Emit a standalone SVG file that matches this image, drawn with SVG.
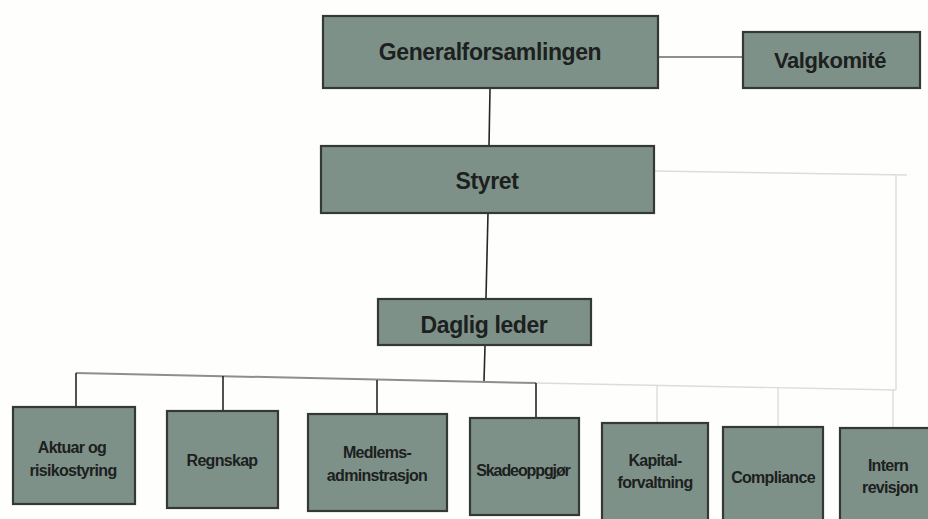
<svg xmlns="http://www.w3.org/2000/svg" width="928" height="519" viewBox="0 0 928 519">
<style>
.box{fill:#7e9188;stroke:#343836;stroke-width:2.2}
.big{font-family:"Liberation Sans",Arial,sans-serif;font-weight:bold;font-size:23px;fill:#1c201e;text-anchor:middle;letter-spacing:-0.4px}
.sm{font-family:"Liberation Sans",Arial,sans-serif;font-weight:bold;font-size:16px;fill:#1c201e;text-anchor:middle;letter-spacing:-0.7px}
.dark{stroke:#262626;stroke-width:1.6;fill:none}
.mid{stroke:#8c8f8d;stroke-width:2;fill:none}
.light{stroke:#dcdcd8;stroke-width:1.4;fill:none}
</style>
<rect width="928" height="519" fill="#fefefc"/>
<g id="connectors">
<line class="mid" x1="658" y1="57" x2="743" y2="57"/>
<line class="dark" x1="490" y1="89" x2="489" y2="146"/>
<line class="dark" x1="488" y1="213" x2="486" y2="298"/>
<polyline class="light" points="654,171 907,175"/>
<polyline class="light" points="896,175 896,390"/>
<line class="dark" x1="485" y1="346" x2="484" y2="381"/>
<polyline class="mid" points="76,373 536,383"/>
<polyline class="light" points="536,383 896,390"/>
<line class="dark" x1="76" y1="373" x2="76" y2="407"/>
<line class="dark" x1="223" y1="376" x2="223" y2="411"/>
<line class="dark" x1="377" y1="380" x2="377" y2="415"/>
<line class="dark" x1="536" y1="383" x2="536" y2="418"/>
<line class="light" x1="657" y1="386" x2="657" y2="423"/>
<line class="light" x1="778" y1="388" x2="778" y2="427"/>
<line class="light" x1="893" y1="390" x2="893" y2="428"/>
</g>
<g id="generalforsamlingen">
<rect class="box" x="323" y="16" width="335" height="72"/>
<text class="big" x="490" y="60">Generalforsamlingen</text>
</g>
<g id="valgkomite">
<rect class="box" x="743" y="32" width="177" height="56"/>
<text class="big" x="830" y="68" style="font-size:22px">Valgkomité</text>
</g>
<g id="styret">
<rect class="box" x="321" y="146" width="333" height="67"/>
<text class="big" x="487" y="189">Styret</text>
</g>
<g id="daglig-leder">
<rect class="box" x="378" y="299" width="213" height="46"/>
<text class="big" x="484" y="333">Daglig leder</text>
</g>
<g id="aktuar">
<rect class="box" x="13" y="407" width="122" height="97"/>
<text class="sm" x="72" y="453">Aktuar og</text>
<text class="sm" x="73" y="476">risikostyring</text>
</g>
<g id="regnskap">
<rect class="box" x="167" y="411" width="111" height="97"/>
<text class="sm" x="222" y="466">Regnskap</text>
</g>
<g id="medlemsadministrasjon">
<rect class="box" x="308" y="414" width="139" height="97"/>
<text class="sm" x="377" y="458">Medlems-</text>
<text class="sm" x="377" y="481">adminstrasjon</text>
</g>
<g id="skadeoppgjor">
<rect class="box" x="470" y="418" width="109" height="97"/>
<text class="sm" x="523" y="476" style="font-size:16px;letter-spacing:-1.1px">Skadeoppgjør</text>
</g>
<g id="kapitalforvaltning">
<rect class="box" x="602" y="423" width="106" height="100"/>
<text class="sm" x="655" y="466">Kapital-</text>
<text class="sm" x="655" y="488">forvaltning</text>
</g>
<g id="compliance">
<rect class="box" x="723" y="427" width="100" height="96"/>
<text class="sm" x="773" y="483">Compliance</text>
</g>
<g id="intern-revisjon">
<rect class="box" x="840" y="428" width="95" height="95"/>
<text class="sm" x="888" y="471">Intern</text>
<text class="sm" x="890" y="493">revisjon</text>
</g>
</svg>
